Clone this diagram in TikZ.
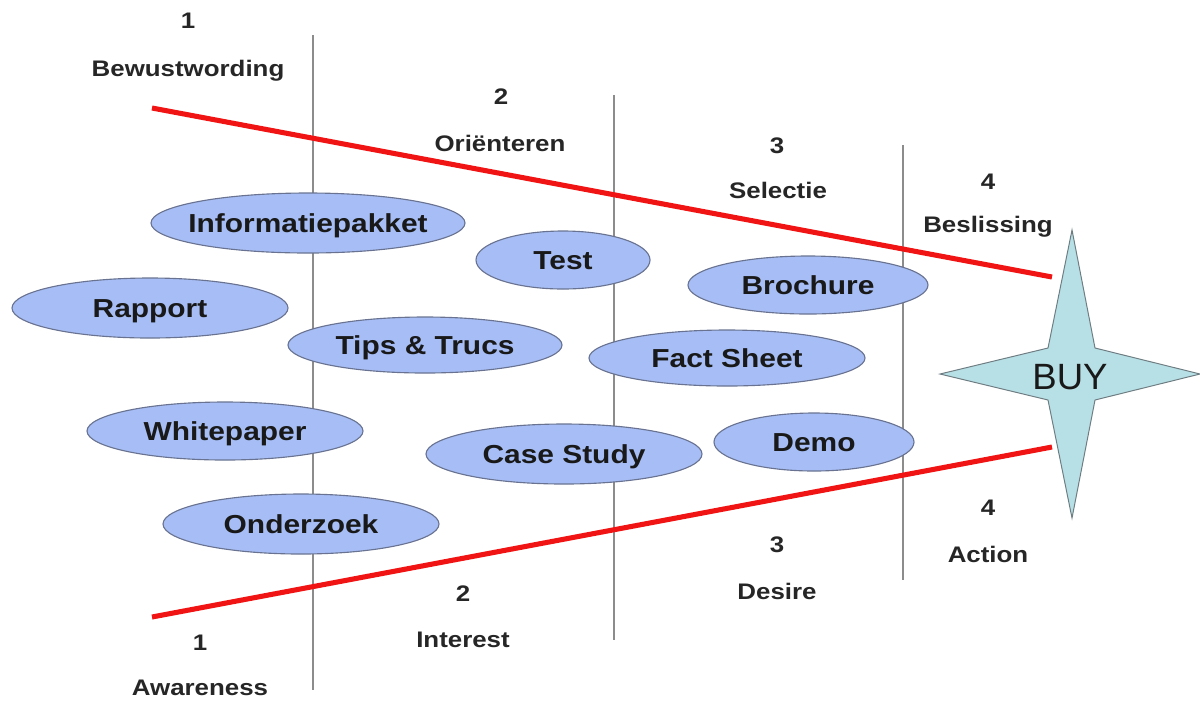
\documentclass[tikz,border=0pt]{standalone}
\usepackage{fontspec}
\setmainfont[FakeStretch=1.15]{Liberation Sans}
\newfontfamily\buyfont{Liberation Sans}
\usetikzlibrary{shapes.geometric}
\definecolor{ellfill}{RGB}{166,190,245}
\definecolor{elldraw}{RGB}{105,115,145}
\definecolor{starfill}{RGB}{183,224,230}
\definecolor{stardraw}{RGB}{110,125,130}
\definecolor{sepgray}{RGB}{140,140,140}
\definecolor{redline}{RGB}{240,20,20}
\newcommand{\elltext}[1]{\makebox[0pt]{\smash{\raisebox{-7pt}{#1}}}}
\tikzset{
  ell/.style={ellipse, draw=elldraw, fill=ellfill, line width=0.8pt, inner sep=0pt,
    font=\fontsize{18.5}{22}\selectfont\bfseries, text=black!90},
  lbl/.style={font=\fontsize{16}{19}\selectfont\bfseries, text=black!85, inner sep=0pt},
  sep/.style={draw=sepgray, line width=1pt},
  funnel/.style={draw=redline, line width=3.6pt},
}
\begin{document}
\begin{tikzpicture}[x=0.025cm,y=-0.025cm]
\useasboundingbox (0,0) rectangle (1200,700);
% separators
\coordinate (s1t) at (313,35);  \coordinate (s1b) at (313,690);
\coordinate (s2t) at (614,95);  \coordinate (s2b) at (614,640);
\coordinate (s3t) at (903,145); \coordinate (s3b) at (903,580);
\draw[sep] (s1t) -- (s1b);
\draw[sep] (s2t) -- (s2b);
\draw[sep] (s3t) -- (s3b);
% funnel lines
\coordinate (ft1) at (152,108); \coordinate (ft2) at (1052,277);
\coordinate (fb1) at (152,617); \coordinate (fb2) at (1052,447);
\draw[funnel] (ft1) -- (ft2);
\draw[funnel] (fb1) -- (fb2);
% ellipses
\node[ell, minimum width=314*0.025cm, minimum height=60*0.025cm] (info) at (308,223) {\elltext{Informatiepakket}};
\node[ell, minimum width=276*0.025cm, minimum height=60*0.025cm] (rapport) at (150,308) {\elltext{Rapport}};
\node[ell, minimum width=174*0.025cm, minimum height=58*0.025cm] (test) at (563,260) {\elltext{Test}};
\node[ell, minimum width=240*0.025cm, minimum height=58*0.025cm] (brochure) at (808,285) {\elltext{Brochure}};
\node[ell, minimum width=274*0.025cm, minimum height=56*0.025cm] (tips) at (425,345) {\elltext{Tips \& Trucs}};
\node[ell, minimum width=276*0.025cm, minimum height=56*0.025cm] (fact) at (727,358) {\elltext{Fact Sheet}};
\node[ell, minimum width=276*0.025cm, minimum height=58*0.025cm] (white) at (225,431) {\elltext{Whitepaper}};
\node[ell, minimum width=276*0.025cm, minimum height=60*0.025cm] (case) at (564,454) {\elltext{Case Study}};
\node[ell, minimum width=200*0.025cm, minimum height=58*0.025cm] (demo) at (814,442) {\elltext{Demo}};
\node[ell, minimum width=276*0.025cm, minimum height=60*0.025cm] (onderzoek) at (301,524) {\elltext{Onderzoek}};
% star
\coordinate (st) at (1072,230);
\coordinate (sr) at (1200,374);
\coordinate (sb) at (1072,518);
\coordinate (sl) at (940,374);
\coordinate (i1) at (1095,348);
\coordinate (i2) at (1095,400);
\coordinate (i3) at (1048,400);
\coordinate (i4) at (1048,348);
\draw[draw=stardraw, fill=starfill, line width=0.7pt, line join=miter]
  (st) -- (i1) -- (sr) -- (i2) -- (sb) -- (i3) -- (sl) -- (i4) -- cycle;
\node[font=\buyfont\fontsize{26}{30}\selectfont, text=black!90, inner sep=0pt] (buy) at (1070,377) {BUY};
% stage labels top
\node[lbl] (n1t) at (188,21) {1};
\node[lbl] (l1t) at (188,71) {Bewustwording};
\node[lbl] (n2t) at (501,97) {2};
\node[lbl] (l2t) at (500,143) {Oriënteren};
\node[lbl] (n3t) at (777,146) {3};
\node[lbl] (l3t) at (778,190) {Selectie};
\node[lbl] (n4t) at (988,182) {4};
\node[lbl] (l4t) at (988,227) {Beslissing};
% stage labels bottom
\node[lbl] (n4b) at (988,508) {4};
\node[lbl] (l4b) at (988,554) {Action};
\node[lbl] (n3b) at (777,545) {3};
\node[lbl] (l3b) at (777,591) {Desire};
\node[lbl] (n2b) at (463,594) {2};
\node[lbl] (l2b) at (463,640) {Interest};
\node[lbl] (n1b) at (200,643) {1};
\node[lbl] (l1b) at (200,688) {Awareness};
\end{tikzpicture}
\end{document}
